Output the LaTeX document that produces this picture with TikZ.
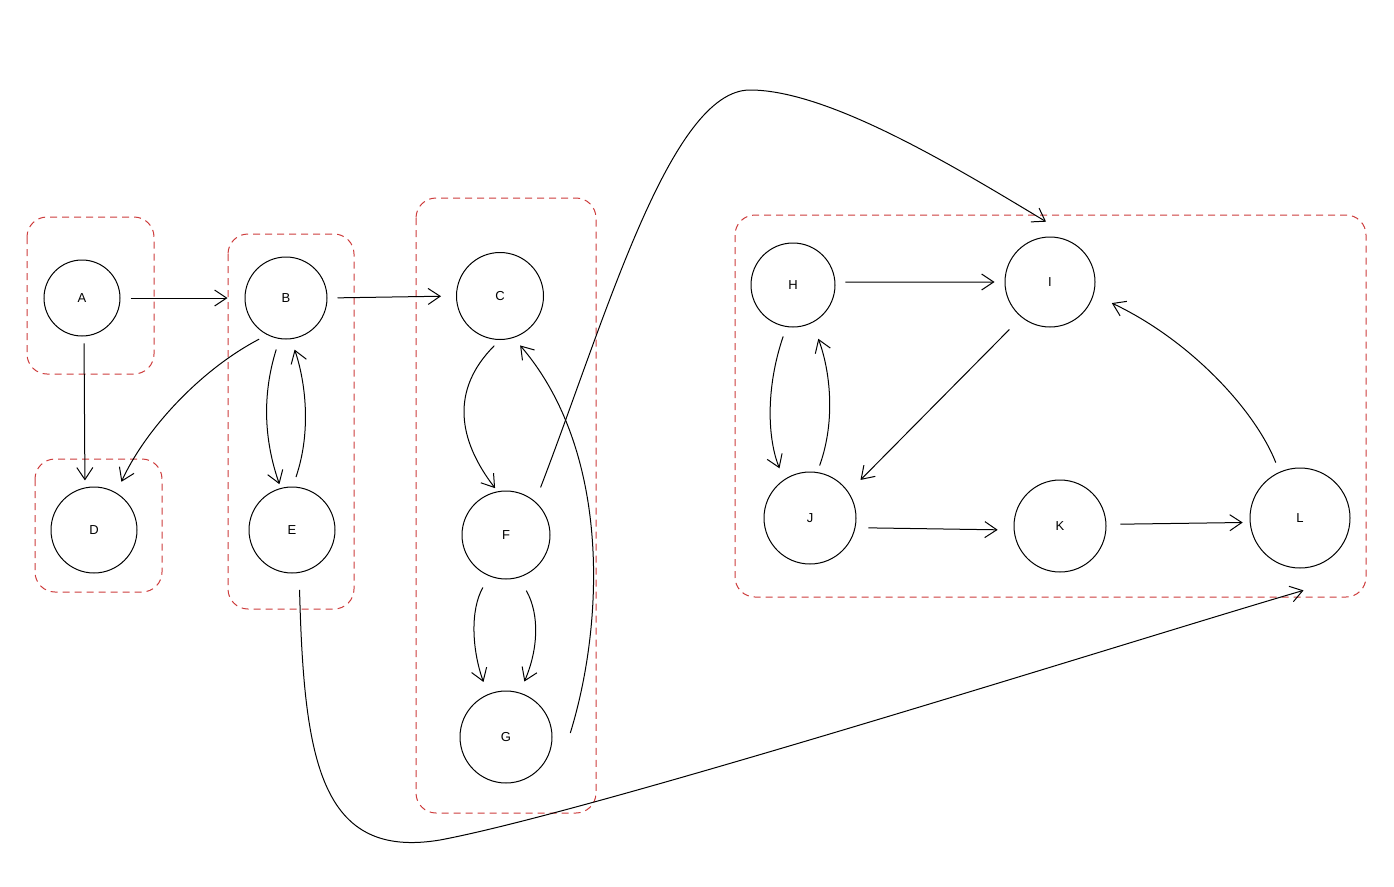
\documentclass[tikz,border=0pt]{standalone}
\usepackage{fontspec}
\setmainfont{Liberation Sans}
\usetikzlibrary{arrows.meta}
\definecolor{grp}{RGB}{205,60,60}
\begin{document}
\begin{tikzpicture}[x=1pt,y=-1pt,
  nd/.style={draw, circle, line width=1pt, inner sep=0pt, font=\fontsize{13}{13}\selectfont},
  arr/.style={line width=1pt, -{Straight Barb[length=12pt,width=16pt,line width=1pt]}},
  grpbox/.style={draw=grp, dash pattern=on 7pt off 5pt, rounded corners=20pt, line width=1pt}]
\useasboundingbox (0,0) rectangle (1394,886);
% groups
\draw[grpbox] (27,217) rectangle (154,374);
\draw[grpbox] (35,459) rectangle (162,592);
\draw[grpbox] (228,234) rectangle (354,609);
\draw[grpbox] (416,198) rectangle (596,813);
\draw[grpbox] (735,215) rectangle (1366,597);
% nodes
\node[nd, minimum size=76pt] (A) at (82,298) {A};
\node[nd, minimum size=82pt] (B) at (286,298) {B};
\node[nd, minimum size=87pt] (C) at (500,296) {C};
\node[nd, minimum size=86pt] (D) at (94,530) {D};
\node[nd, minimum size=86pt] (E) at (292,530) {E};
\node[nd, minimum size=88pt] (F) at (506,535) {F};
\node[nd, minimum size=92pt] (G) at (506,737) {G};
\node[nd, minimum size=84pt] (H) at (793,285) {H};
\node[nd, minimum size=90pt] (I) at (1050,282) {I};
\node[nd, minimum size=92pt] (J) at (810,518) {J};
\node[nd, minimum size=92pt] (K) at (1060,526) {K};
\node[nd, minimum size=100pt] (L) at (1300,518) {L};
% edges
\draw[arr, shorten <=7pt, shorten >=7pt] (A.-87) -- (D.102);
\draw[arr, shorten <=10pt, shorten >=17pt] (A.east) -- (B.west);
\draw[arr, shorten <=10pt, shorten >=15pt] (B.east) -- (C.west);
\draw[arr, shorten <=9pt, shorten >=12pt] (B.243) .. controls (200,370) and (145,430) .. (D.59);
\draw[arr, shorten <=11pt, shorten >=4pt] (B.261) .. controls (262,395) and (264,440) .. (E.105);
\draw[arr, shorten <=10pt, shorten >=11pt] (E.89) .. controls (312,430) and (305,380) .. (B.-83);
\draw[arr, shorten <=8pt, shorten >=4pt] (C.south) .. controls (450,390) and (458,440) .. (F.101);
\draw[arr, shorten <=13pt, shorten >=13pt] (F.248) .. controls (470,610) and (472,650) .. (G.113);
\draw[arr, shorten <=15pt, shorten >=12pt] (F.-73) .. controls (540,615) and (538,650) .. (G.73);
\draw[arr, shorten >=10pt] ([xshift=18pt]G.5) .. controls (605,620) and (610,450) .. (C.-72);
\draw[arr, shorten <=15pt] (F.49) .. controls (605,320) and (670,90) .. (750,90) .. controls (830,90) and (960,170) .. ([yshift=15pt]I.95);
\draw[arr] ([yshift=-17pt]E.-80) .. controls (304,760) and (320,860) .. (440,840) .. controls (600,810) and (1150,635) .. ([yshift=-22pt]L.-86);
\draw[arr, shorten <=10pt, shorten >=10pt] (H.4) -- (I.west);
\draw[arr, shorten <=10pt, shorten >=12pt] (H.261) .. controls (765,390) and (768,440) .. (J.124);
\draw[arr, shorten <=7pt, shorten >=17pt] (J.81) .. controls (836,420) and (830,370) .. (H.-63);
\draw[arr, shorten <=17pt, shorten >=17pt] (I.231) -- (J.34);
\draw[arr, shorten <=10pt, shorten >=20pt] (L.114) .. controls (1255,410) and (1190,340) .. (I.-16);
\draw[arr, shorten <=13pt, shorten >=16pt] (J.-12) -- (K.185);
\draw[arr, shorten <=14pt, shorten >=7pt] (K.2) -- (L.185);
\end{tikzpicture}
\end{document}
